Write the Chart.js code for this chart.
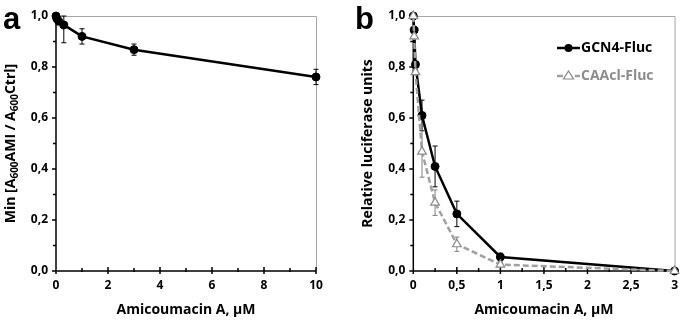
<!DOCTYPE html>
<html><head><meta charset="utf-8">
<script src="https://cdn.jsdelivr.net/npm/chart.js@4/dist/chart.umd.min.js"></script>
<style>
body{margin:0;background:#fff;width:685px;height:321px;overflow:hidden;position:relative}
canvas{position:absolute;top:0}
#ca{left:0}#cb{left:340px}
</style></head><body>
<canvas id="ca" width="340" height="321"></canvas>
<canvas id="cb" width="345" height="321"></canvas>
<script>
const FONT = "'Open Sans', Lato, sans-serif";
// ---- panel a ----
const aConc   = [0, 0.03, 0.1, 0.3, 1, 3, 10];
const aGrowth = [1.0, 0.99, 0.98, 0.965, 0.92, 0.868, 0.761];
const aErr    = [0, 0, 0, 0.07, 0.03, 0.022, 0.03];
const aXTicks = ['0','2','4','6','8','10'];
const yTicks  = ['0,0','0,2','0,4','0,6','0,8','1,0'];
// ---- panel b ----
const bConc    = [0, 0.01, 0.025, 0.1, 0.25, 0.5, 1, 3];
const gcn4     = [1.0, 0.945, 0.81, 0.61, 0.41, 0.224, 0.055, 0.0];
const gcn4Err  = [0, 0, 0, 0.06, 0.08, 0.05, 0.015, 0];
const caacl    = [1.0, 0.92, 0.78, 0.468, 0.268, 0.105, 0.025, 0.0];
const caaclErr = [0, 0, 0.01, 0.10, 0.05, 0.028, 0.01, 0];
const bXTicks  = ['0','0,5','1','1,5','2','2,5','3'];
const seriesNames = ['GCN4-Fluc', 'CAAcl-Fluc'];
const xTitle = 'Amicoumacin A, μM';
const GRAY = '#a0a0a0';

const pts = (xs, ys) => xs.map((x, i) => ({x, y: ys[i]}));

function makePlugin(cfg) {
  return {
    id: 'deco',
    beforeDatasetsDraw(chart) {
      const {ctx, chartArea: a, scales: {x, y}} = chart;
      ctx.save();
      ctx.strokeStyle = '#a6a6a6'; ctx.lineWidth = 1;
      ctx.beginPath();
      ctx.moveTo(a.left, a.top + 0.5); ctx.lineTo(a.right + 0.5, a.top + 0.5); ctx.lineTo(a.right + 0.5, a.bottom);
      ctx.stroke();
      ctx.strokeStyle = '#000'; ctx.lineWidth = 1.5;
      ctx.beginPath();
      ctx.moveTo(a.left, a.top); ctx.lineTo(a.left, a.bottom); ctx.lineTo(a.right, a.bottom);
      for (let k = 0; k <= 10; k++) {
        const py = y.getPixelForValue(k / 10);
        ctx.moveTo(a.left - (k % 2 === 0 ? 4 : 3), py); ctx.lineTo(a.left, py);
      }
      for (let k = 0; k <= cfg.xMinorCount; k++) {
        const v = x.min + (x.max - x.min) * k / cfg.xMinorCount;
        const px = x.getPixelForValue(v);
        const major = k % 2 === 0;
        ctx.moveTo(px, a.bottom - (major ? 4 : 3)); ctx.lineTo(px, a.bottom + (major ? 3 : 1));
      }
      ctx.stroke();
      ctx.lineWidth = 1;
      cfg.errs.forEach((err, di) => {
        const ds = chart.data.datasets[di];
        ctx.strokeStyle = cfg.errColors[di];
        ctx.beginPath();
        ds.data.forEach((p, i) => {
          if (!err[i]) return;
          const px = x.getPixelForValue(p.x);
          const y1 = Math.max(a.top, y.getPixelForValue(p.y + err[i]));
          const y2 = Math.min(a.bottom, y.getPixelForValue(p.y - err[i]));
          ctx.moveTo(px, y1); ctx.lineTo(px, y2);
          ctx.moveTo(px - 2.5, y1); ctx.lineTo(px + 2.5, y1);
          ctx.moveTo(px - 2.5, y2); ctx.lineTo(px + 2.5, y2);
        });
        ctx.stroke();
      });
      ctx.restore();
    },
    afterDraw(chart) {
      const {ctx, chartArea: a} = chart;
      ctx.save();
      ctx.fillStyle = '#000';
      ctx.font = "bold 31px 'Liberation Sans', Arial, sans-serif";
      ctx.textBaseline = 'alphabetic';
      ctx.fillText(cfg.panel, cfg.panelX, 29);
      if (cfg.drawYTitle) cfg.drawYTitle(ctx, a);
      if (cfg.legend) cfg.legend(ctx, chart);
      ctx.restore();
    }
  };
}

function scales(xMax, xStep, xLabels, yAfterFitW, yTitle) {
  return {
    x: {
      type: 'linear', min: 0, max: xMax,
      grid: {display: false, drawTicks: false}, border: {display: false},
      afterFit: s => { s.height = 50; },
      ticks: {stepSize: xStep, padding: 7, color: '#000', maxRotation: 0,
        font: {family: FONT, size: 12, weight: 'bold'},
        callback: (v, i) => xLabels[i]},
      title: {display: true, text: xTitle, color: '#000', padding: {top: 0, bottom: 3},
        font: {family: FONT, size: 14, weight: 'bold'}}
    },
    y: {
      type: 'linear', min: 0, max: 1,
      grid: {display: false, drawTicks: false}, border: {display: false},
      afterFit: s => { s.width = yAfterFitW; },
      ticks: {stepSize: 0.2, padding: 8, color: '#000',
        font: {family: FONT, size: 12, weight: 'bold'},
        callback: (v, i) => yTicks[i]},
      title: yTitle
    }
  };
}

// ---- chart a ----
new Chart(document.getElementById('ca'), {
  type: 'scatter',
  data: {datasets: [{
    data: pts(aConc, aGrowth), showLine: true, clip: false,
    borderColor: '#000', borderWidth: 2.5, backgroundColor: '#000',
    pointRadius: 4, pointHoverRadius: 4, pointBorderWidth: 1
  }]},
  options: {
    responsive: false, animation: false, devicePixelRatio: 1,
    layout: {padding: {left: 0, right: 24, top: 16, bottom: 0}},
    plugins: {legend: {display: false}, tooltip: {enabled: false}},
    scales: scales(10, 2, aXTicks, 56, {display: false})
  },
  plugins: [makePlugin({
    panel: 'a', panelX: 3, xMinorCount: 10,
    errs: [aErr], errColors: ['#000'],
    drawYTitle(ctx, a) {
      const parts = [['Min [A', 0], ['600', 1], ['AMI / A', 0], ['600', 1], ['Ctrl]', 0]];
      const bigF = "bold 14px " + FONT, smallF = "bold 10px " + FONT;
      let total = 0;
      parts.forEach(([t, s]) => { ctx.font = s ? smallF : bigF; total += ctx.measureText(t).width; });
      ctx.translate(11, (a.top + a.bottom) / 2);
      ctx.rotate(-Math.PI / 2);
      ctx.textBaseline = 'middle';
      let xx = -total / 2;
      parts.forEach(([t, s]) => {
        ctx.font = s ? smallF : bigF;
        ctx.fillText(t, xx, s ? 4 : 0);
        xx += ctx.measureText(t).width;
      });
    }
  })]
});

// ---- chart b ----
new Chart(document.getElementById('cb'), {
  type: 'scatter',
  data: {datasets: [
    {label: seriesNames[0], data: pts(bConc, gcn4), showLine: true, clip: false,
      borderColor: '#000', borderWidth: 2.5, backgroundColor: '#000',
      pointRadius: 4, pointHoverRadius: 4, pointBorderWidth: 1, order: 2},
    {label: seriesNames[1], data: pts(bConc, caacl), showLine: true, clip: false,
      borderColor: GRAY, borderWidth: 2.5, borderDash: [6, 3], backgroundColor: '#fff',
      pointStyle: 'triangle', pointRadius: 5, pointHoverRadius: 5, pointBorderWidth: 1.2,
      pointBorderColor: '#8a8a8a', order: 1}
  ]},
  options: {
    responsive: false, animation: false, devicePixelRatio: 1,
    layout: {padding: {left: 0, right: 9, top: 16, bottom: 0}},
    plugins: {legend: {display: false}, tooltip: {enabled: false}},
    scales: scales(3, 0.5, bXTicks, 73.3, {display: true, text: 'Relative luciferase units',
      color: '#000', padding: {top: 20, bottom: 0}, font: {family: FONT, size: 14, weight: 'bold'}})
  },
  plugins: [makePlugin({
    panel: 'b', panelX: 15, xMinorCount: 12,
    errs: [gcn4Err, caaclErr], errColors: ['#000', '#808080'],
    legend(ctx) {
      const x0 = 217, x1 = 240;
      ctx.strokeStyle = '#000'; ctx.lineWidth = 2.5;
      ctx.beginPath(); ctx.moveTo(x0, 48); ctx.lineTo(x1, 48); ctx.stroke();
      ctx.fillStyle = '#000';
      ctx.beginPath(); ctx.arc((x0 + x1) / 2, 48, 4, 0, Math.PI * 2); ctx.fill();
      ctx.font = "bold 14px " + FONT; ctx.textBaseline = 'middle';
      ctx.fillText(seriesNames[0], x1 + 1, 48);
      ctx.strokeStyle = GRAY; ctx.setLineDash([6, 3]);
      ctx.beginPath(); ctx.moveTo(x0, 76); ctx.lineTo(x1, 76); ctx.stroke();
      ctx.setLineDash([]);
      const cx = (x0 + x1) / 2;
      ctx.fillStyle = '#fff'; ctx.strokeStyle = '#8a8a8a'; ctx.lineWidth = 1.2;
      ctx.beginPath(); ctx.moveTo(cx, 71); ctx.lineTo(cx + 5, 79); ctx.lineTo(cx - 5, 79); ctx.closePath();
      ctx.fill(); ctx.stroke();
      ctx.fillStyle = '#8c8c8c';
      ctx.fillText(seriesNames[1], x1 + 1, 76);
    }
  })]
});
</script>
</body></html>
